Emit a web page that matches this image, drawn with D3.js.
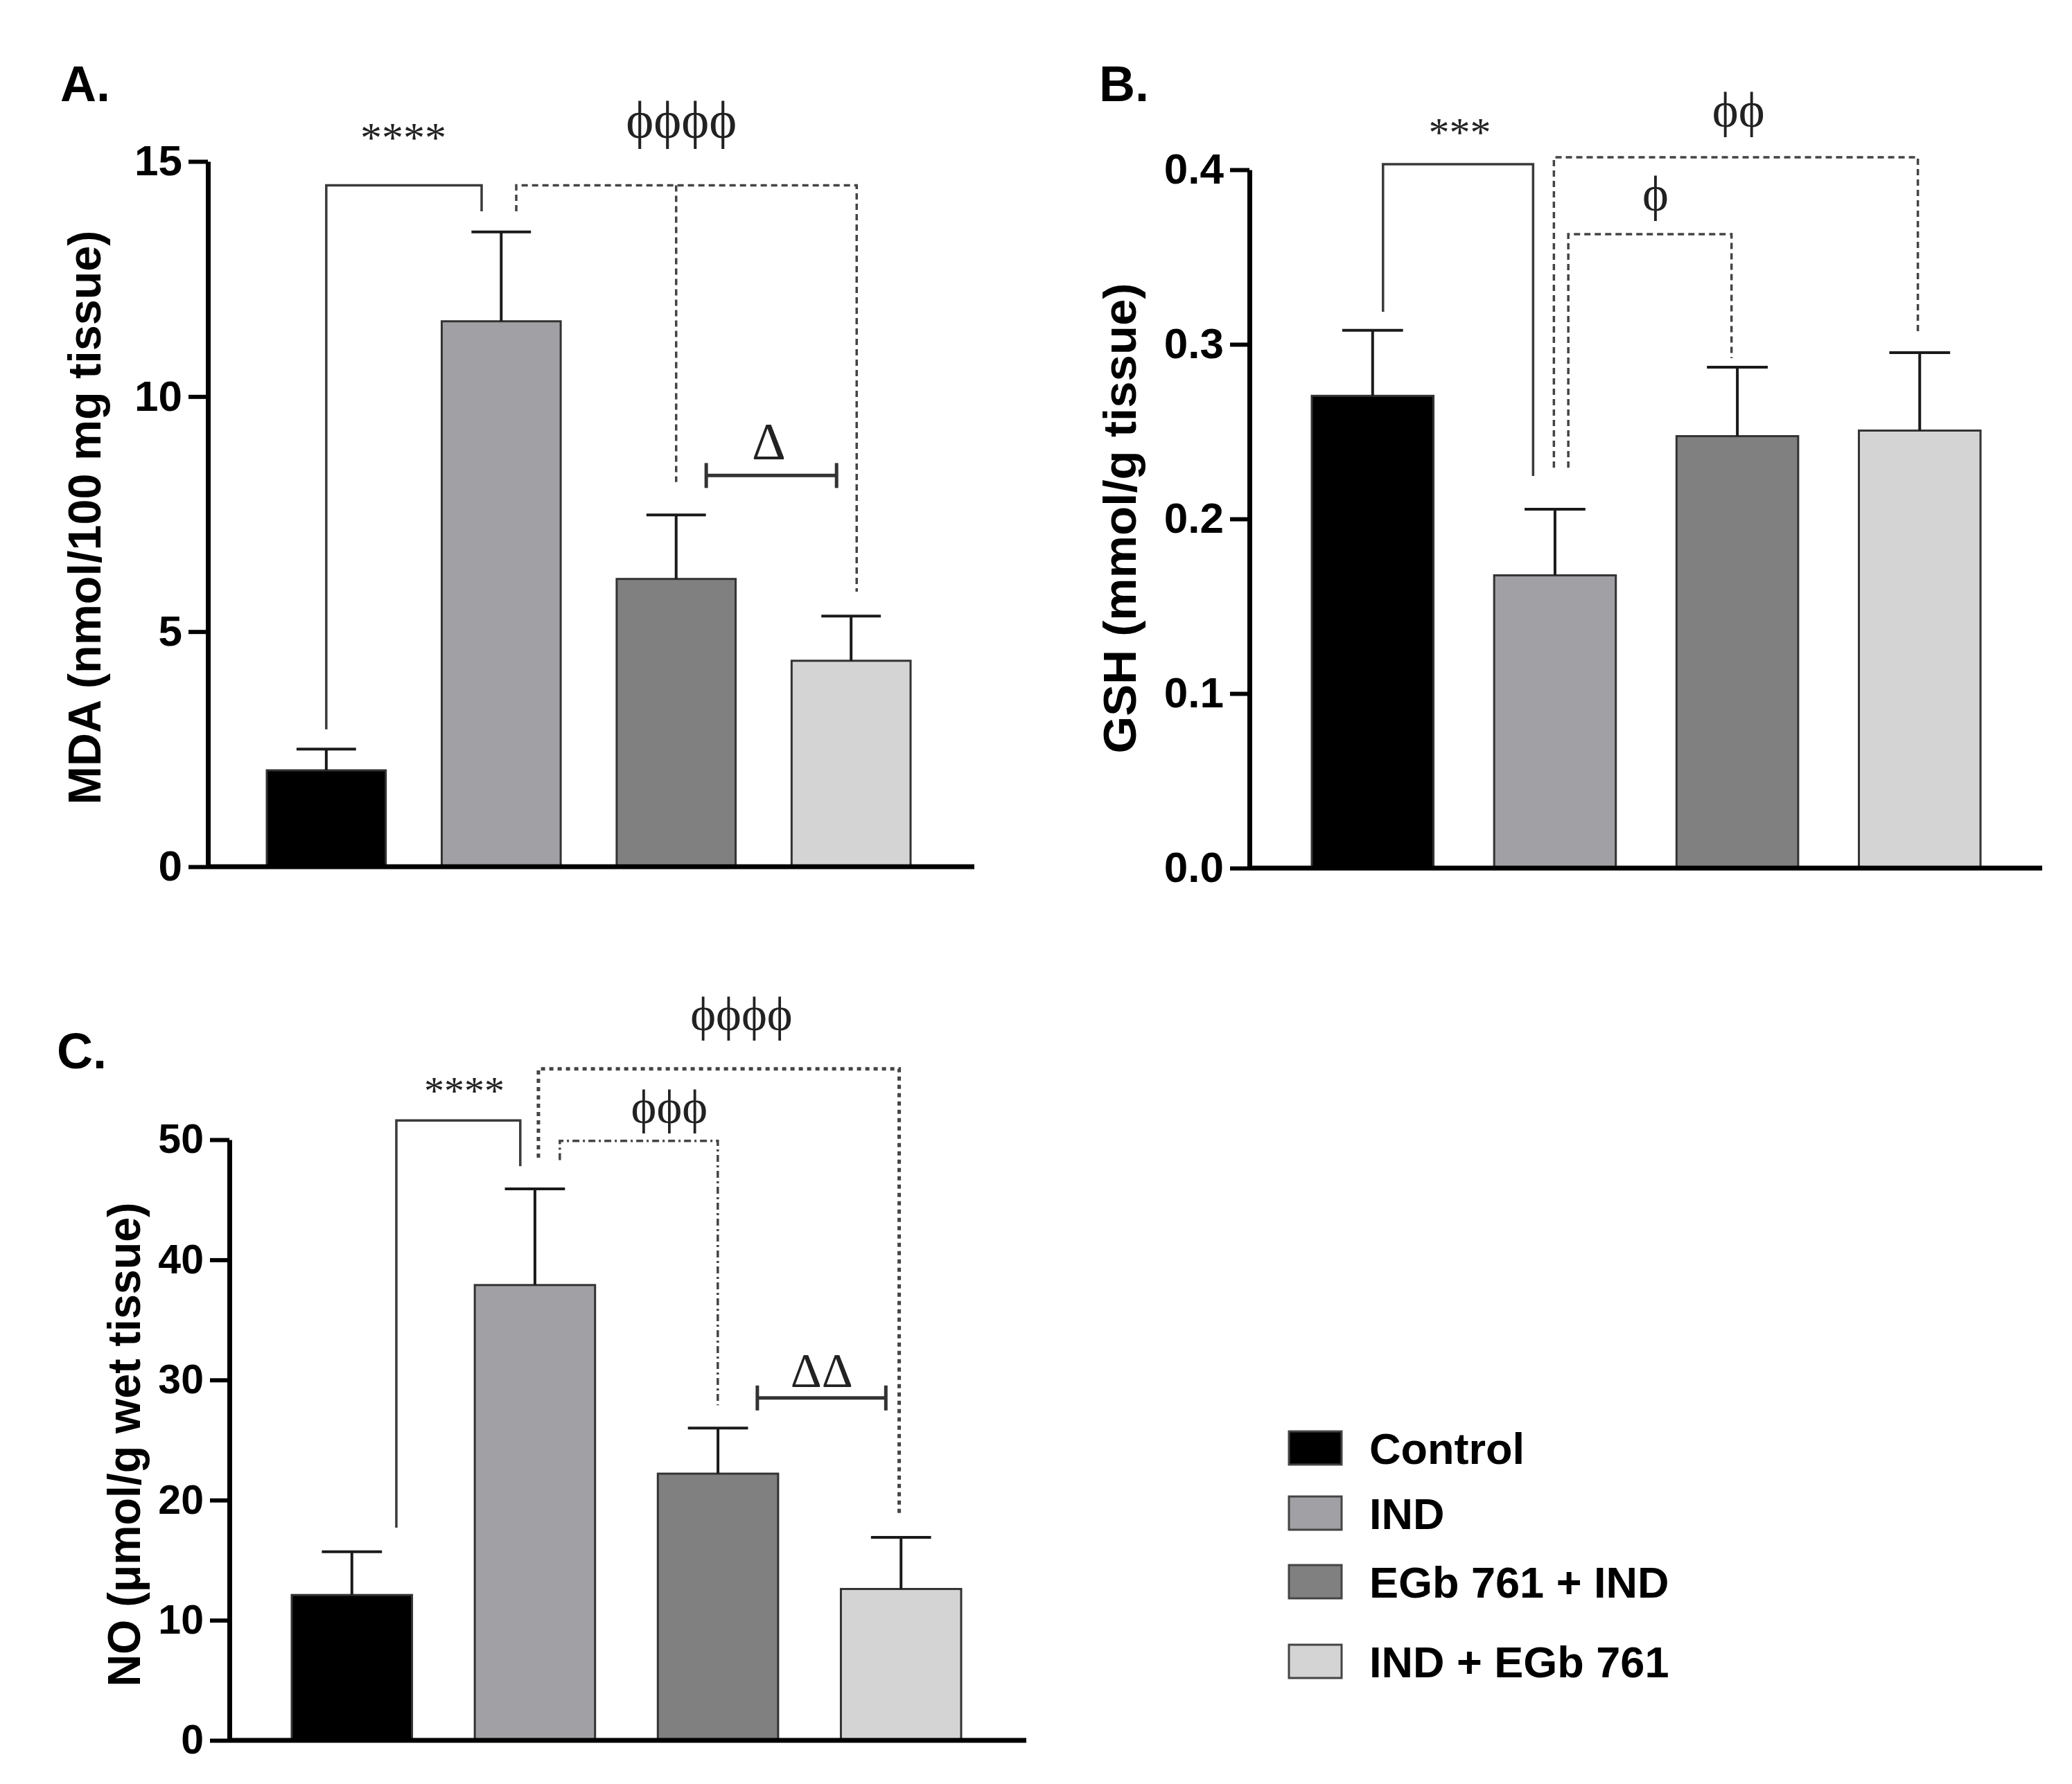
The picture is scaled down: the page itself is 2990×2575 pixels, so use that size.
<!doctype html>
<html>
<head>
<meta charset="utf-8">
<script src="https://d3js.org/d3.v7.min.js"></script>
<style>
  body { margin: 0; background: #fff; }
  text { font-family: "Liberation Sans", Arial, sans-serif; }
  .sig { font-family: "Liberation Serif", "DejaVu Serif", serif; fill: #222; }
</style>
</head>
<body>
<div id="chart"></div>
<script>
// groups and colours
var groups = ["Control", "IND", "EGb 761 + IND", "IND + EGb 761"];
var fills = ["#000000", "#a1a1a5", "#808080", "#d4d4d4"];

// A. MDA (nmol/100 mg tissue)
var mdaMean = [2.05, 11.6, 6.12, 4.38];
var mdaErr = [0.45, 1.9, 1.36, 0.95];
var mdaTicks = [0, 5, 10, 15];

// B. GSH (mmol/g tissue)
var gshMean = [0.2705, 0.1677, 0.2474, 0.2506];
var gshErr = [0.0375, 0.0379, 0.0395, 0.0446];
var gshTicks = [0, 0.1, 0.2, 0.3, 0.4];

// C. NO (umol/g wet tissue)
var noMean = [12.1, 37.9, 22.2, 12.6];
var noErr = [3.6, 8.0, 3.8, 4.3];
var noTicks = [0, 10, 20, 30, 40, 50];

// significance brackets: points are [group index (fractional), value]
var mdaBrackets = [
  { kind: "solid", pts: [[0, 2.92], [0, 14.49], [0.888, 14.49], [0.888, 13.94]] },
  { kind: "dash", pts: [[1.086, 13.94], [1.086, 14.49], [3.032, 14.49], [3.032, 5.85]] },
  { kind: "dash", pts: [[2, 14.49], [2, 8.18]] }
];
var mdaBars = [{ from: 2.172, to: 2.917, value: 8.32 }];
var mdaSig = [
  { text: "****", g: 0.44, value: 15.2, big: false },
  { text: "ϕϕϕϕ", g: 2.03, value: 15.5, big: true },
  { text: "Δ", g: 2.53, value: 8.66, big: true }
];

var gshBrackets = [
  { kind: "solid", pts: [[0.057, 0.3187], [0.057, 0.4032], [0.88, 0.4032], [0.88, 0.2246]] },
  { kind: "dash", pts: [[0.994, 0.2294], [0.994, 0.4071], [2.99, 0.4071], [2.99, 0.3056]] },
  { kind: "dash", pts: [[1.073, 0.2294], [1.073, 0.3631], [1.968, 0.3631], [1.968, 0.2921]] }
];
var gshBars = [];
var gshSig = [
  { text: "***", g: 0.478, value: 0.4135, big: false },
  { text: "ϕϕ", g: 2.006, value: 0.4245, big: true },
  { text: "ϕ", g: 1.551, value: 0.3765, big: true }
];

var noBrackets = [
  { kind: "solid", pts: [[0.243, 17.7], [0.243, 51.6], [0.92, 51.6], [0.92, 47.8]] },
  { kind: "dot", pts: [[1.019, 48.5], [1.019, 55.9], [2.99, 55.9], [2.99, 18.8]] },
  { kind: "dashdot", pts: [[1.136, 48.3], [1.136, 49.9], [1.999, 49.9], [1.999, 27.9]] }
];
var noBars = [{ from: 2.215, to: 2.917, value: 28.5 }];
var noSig = [
  { text: "****", g: 0.614, value: 52.97, big: false },
  { text: "ϕϕϕϕ", g: 2.128, value: 59.1, big: true },
  { text: "ϕϕϕ", g: 1.734, value: 51.4, big: true },
  { text: "ΔΔ", g: 2.567, value: 29.4, big: true }
];

var W = 2990, H = 2575;
var svg = d3.select("#chart").append("svg")
  .attr("width", W).attr("height", H)
  .style("background", "#fff");

var lineStyles = {
  solid: { stroke: "#3a3a3a", width: 3.5, dash: null },
  dash: { stroke: "#444", width: 3.5, dash: "9 6" },
  dot: { stroke: "#444", width: 5, dash: "6 6" },
  dashdot: { stroke: "#444", width: 3.5, dash: "10 5 3 5" }
};

function drawPanel(p) {
  var g = svg.append("g");

  var x = d3.scaleBand().domain(groups).range(p.barRange).paddingInner(p.pad).paddingOuter(0);
  var y = d3.scaleLinear().domain([0, p.max]).range(p.yRange);
  var bw = x.bandwidth();
  // continuous group position -> pixel
  function gx(i) { return x(groups[0]) + bw / 2 + i * x.step(); }

  var rows = groups.map(function (k, i) { return { k: k, m: p.mean[i], e: p.err[i], c: fills[i] }; });

  g.selectAll(".bar").data(rows).enter().append("rect")
    .attr("x", function (d) { return x(d.k); })
    .attr("y", function (d) { return y(d.m); })
    .attr("width", bw)
    .attr("height", function (d) { return y(0) - y(d.m); })
    .attr("fill", function (d) { return d.c; })
    .attr("stroke", "#333")
    .attr("stroke-width", 3);

  // error bars (upper only)
  var eb = g.selectAll(".err").data(rows).enter().append("g");
  eb.append("line")
    .attr("x1", function (d) { return x(d.k) + bw / 2; })
    .attr("x2", function (d) { return x(d.k) + bw / 2; })
    .attr("y1", function (d) { return y(d.m); })
    .attr("y2", function (d) { return y(d.m + d.e); })
    .attr("stroke", "#1a1a1a").attr("stroke-width", 4);
  eb.append("line")
    .attr("x1", function (d) { return x(d.k) + bw / 2 - bw * 0.25; })
    .attr("x2", function (d) { return x(d.k) + bw / 2 + bw * 0.25; })
    .attr("y1", function (d) { return y(d.m + d.e); })
    .attr("y2", function (d) { return y(d.m + d.e); })
    .attr("stroke", "#1a1a1a").attr("stroke-width", 4);

  // axes
  var yAxis = g.append("g")
    .attr("transform", "translate(" + p.axisX + ",0)")
    .call(d3.axisLeft(y).tickValues(p.ticks).tickFormat(p.fmt)
      .tickSize(28).tickPadding(9).tickSizeOuter(0));
  yAxis.select(".domain").attr("stroke", "#000").attr("stroke-width", 7);
  yAxis.selectAll(".tick line").attr("stroke", "#000").attr("stroke-width", 6);
  yAxis.selectAll(".tick text")
    .attr("fill", "#000")
    .style("font-family", "'Liberation Sans', Arial, sans-serif")
    .style("font-weight", "bold")
    .style("font-size", p.tickFont + "px");

  g.append("line")
    .attr("x1", p.axisX).attr("x2", p.axisEnd)
    .attr("y1", y(0)).attr("y2", y(0))
    .attr("stroke", "#000").attr("stroke-width", 7);

  // y label
  g.append("text")
    .attr("transform", "translate(" + p.labelX + "," + p.labelY + ") rotate(-90)")
    .attr("text-anchor", "middle")
    .attr("textLength", p.labelLen)
    .attr("lengthAdjust", "spacingAndGlyphs")
    .style("font-weight", "bold")
    .style("font-size", "67px")
    .text(p.label);

  // panel letter
  g.append("text")
    .attr("x", p.letterX).attr("y", p.letterY)
    .style("font-weight", "bold").style("font-size", "72px")
    .text(p.letter);

  // brackets
  var line = d3.line().x(function (d) { return gx(d[0]); }).y(function (d) { return y(d[1]); });
  p.brackets.forEach(function (b) {
    var s = lineStyles[b.kind];
    g.append("path").attr("d", line(b.pts))
      .attr("fill", "none")
      .attr("stroke", s.stroke)
      .attr("stroke-width", s.width)
      .attr("stroke-dasharray", s.dash);
  });

  p.bars.forEach(function (b) {
    var yy = y(b.value);
    g.append("line").attr("x1", gx(b.from)).attr("x2", gx(b.to))
      .attr("y1", yy).attr("y2", yy).attr("stroke", "#333").attr("stroke-width", 5);
    [b.from, b.to].forEach(function (e) {
      g.append("line").attr("x1", gx(e)).attr("x2", gx(e))
        .attr("y1", yy - 18).attr("y2", yy + 18)
        .attr("stroke", "#333").attr("stroke-width", 5);
    });
  });

  g.selectAll(".sig").data(p.sig).enter().append("text")
    .attr("class", "sig")
    .attr("x", function (d) { return gx(d.g); })
    .attr("y", function (d) { return y(d.value); })
    .attr("text-anchor", "middle")
    .style("font-size", function (d) { return (d.big ? p.greekFont : p.sigFont) + "px"; })
    .text(function (d) { return d.text; });
}

drawPanel({
  letter: "A.", letterX: 87, letterY: 146,
  mean: mdaMean, err: mdaErr, ticks: mdaTicks, fmt: d3.format("d"), max: 15,
  axisX: 300, axisEnd: 1406, barRange: [385, 1314], pad: 0.32, yRange: [1251, 233],
  tickFont: 62, sigFont: 62, greekFont: 76,
  label: "MDA (nmol/100 mg tissue)", labelX: 145, labelY: 747, labelLen: 829,
  brackets: mdaBrackets, bars: mdaBars, sig: mdaSig
});

drawPanel({
  letter: "B.", letterX: 1586, letterY: 146,
  mean: gshMean, err: gshErr, ticks: gshTicks, fmt: d3.format(".1f"), max: 0.4,
  axisX: 1803, axisEnd: 2947, barRange: [1893, 2858], pad: 0.333, yRange: [1253, 245],
  tickFont: 62, sigFont: 60, greekFont: 72,
  label: "GSH (mmol/g tissue)", labelX: 1639, labelY: 748, labelLen: 679,
  brackets: gshBrackets, bars: gshBars, sig: gshSig
});

drawPanel({
  letter: "C.", letterX: 82, letterY: 1542,
  mean: noMean, err: noErr, ticks: noTicks, fmt: d3.format("d"), max: 50,
  axisX: 331, axisEnd: 1481, barRange: [421, 1387], pad: 0.343, yRange: [2512, 1645],
  tickFont: 59, sigFont: 58, greekFont: 70,
  label: "NO (μmol/g wet tissue)", labelX: 202, labelY: 2085, labelLen: 699,
  brackets: noBrackets, bars: noBars, sig: noSig
});

// legend
var legendY = [2090, 2184, 2283, 2398];
var legend = svg.append("g");
var li = legend.selectAll(".item").data(groups).enter().append("g")
  .attr("transform", function (d, i) { return "translate(1860," + legendY[i] + ")"; });
li.append("rect")
  .attr("x", 0).attr("y", -24).attr("width", 76).attr("height", 48)
  .attr("fill", function (d, i) { return fills[i]; })
  .attr("stroke", "#444").attr("stroke-width", 3);
li.append("text")
  .attr("x", 116).attr("y", 23)
  .style("font-weight", "bold").style("font-size", "63px")
  .text(function (d) { return d; });
</script>
</body>
</html>
